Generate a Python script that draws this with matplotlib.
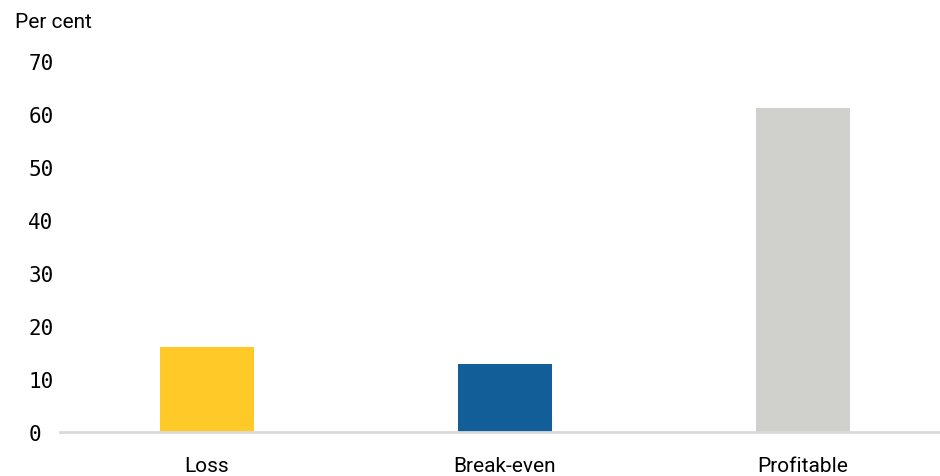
import matplotlib
matplotlib.use("Agg")
import matplotlib.pyplot as plt

categories = ["Loss", "Break-even", "Profitable"]
values = [16.0, 12.8, 61.1]
colors = ["#FFC928", "#115E99", "#D0D0CC"]
yticks = [0, 10, 20, 30, 40, 50, 60, 70]

fig = plt.figure(figsize=(9.4, 4.77), dpi=100)
ax = fig.add_axes([0.064, 0.092, 0.936, 0.778])
x = list(range(len(categories)))
ax.bar(x, values, width=0.315, color=colors, zorder=2)
ax.set_xlim(-0.493, 2.46)
ax.set_ylim(0, 70)
ax.set_yticks(yticks)
ax.set_yticklabels([str(t) for t in yticks], family="DejaVu Sans Mono", fontsize=15, ha="left")
ax.tick_params(axis="y", length=0, pad=23)
ax.set_xticks(x)
ax.set_xticklabels(categories, family="Roboto", fontsize=15)
ax.tick_params(axis="x", length=0, pad=17)
for s in ["top", "right", "left"]:
    ax.spines[s].set_visible(False)
ax.spines["bottom"].set_color("#D9D9D9")
ax.spines["bottom"].set_linewidth(2)
fig.text(0.016, 0.952, "Per cent", family="Roboto", fontsize=15, va="center", ha="left")
fig.savefig("out.png", dpi=100)
